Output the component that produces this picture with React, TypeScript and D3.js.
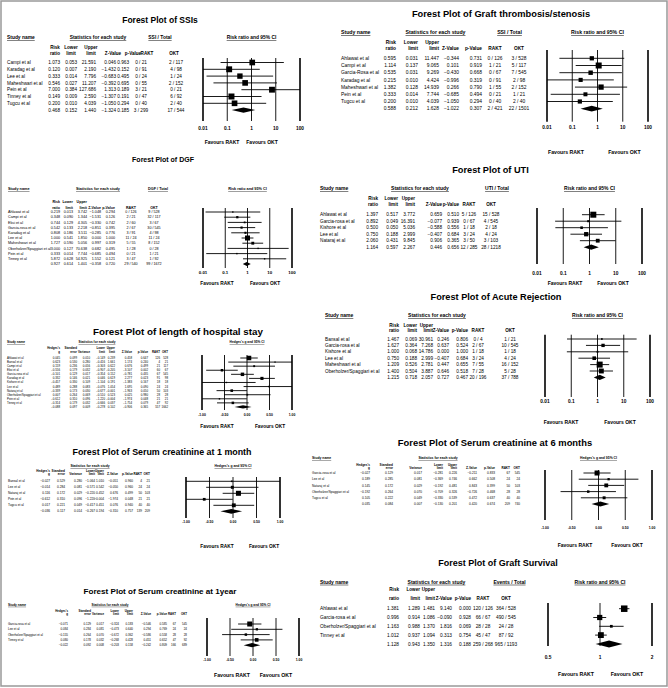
import React from 'react';
import * as d3 from 'd3';

// ---- data ----

const ssiStudies = ['Campi et al', 'Karadag et al', 'Lee et al', 'Maheshwari et al', 'Pein et al', 'Tinney et al', 'Tugcu et al', ''];
const ssiStats = [
  [1.073, 0.053, 21.591, 0.046, 0.963],
  [0.120, 0.007, 2.190, -1.432, 0.152],
  [0.333, 0.014, 7.796, -0.683, 0.495],
  [0.546, 0.027, 11.207, -0.392, 0.695],
  [7.000, 0.384, 127.686, 1.313, 0.189],
  [0.149, 0.009, 2.590, -1.307, 0.191],
  [0.200, 0.010, 4.039, -1.050, 0.294],
  [0.468, 0.152, 1.440, -1.324, 0.185],
];
const ssiRakt = ['0 / 21', '0 / 91', '0 / 24', '0 / 55', '3 / 21', '0 / 47', '0 / 40', '3 / 299'];
const ssiOkt = ['2 / 117', '4 / 98', '1 / 24', '2 / 152', '0 / 21', '6 / 92', '2 / 40', '17 / 544'];

const gtStudies = ['Ahlawat et al', 'Campi et al', 'Garcia-Rosa et al', 'Karadag et al', 'Maheshwari et al', 'Pein et al', 'Tugcu et al', ''];
const gtStats = [
  [0.595, 0.031, 11.447, -0.344, 0.731],
  [1.114, 0.137, 9.065, 0.101, 0.919],
  [0.535, 0.031, 9.269, -0.430, 0.668],
  [0.215, 0.010, 4.424, -0.996, 0.319],
  [1.382, 0.128, 14.939, 0.266, 0.790],
  [0.333, 0.014, 7.744, -0.685, 0.494],
  [0.200, 0.010, 4.039, -1.050, 0.294],
  [0.588, 0.212, 1.628, -1.022, 0.307],
];
const gtRakt = ['0 / 126', '1 / 21', '0 / 67', '0 / 91', '1 / 55', '0 / 21', '0 / 40', '2 / 421'];
const gtOkt = ['3 / 528', '5 / 117', '7 / 545', '2 / 98', '2 / 152', '1 / 21', '2 / 40', '22 / 1501'];

const dgfStudies = ['Ahlawat et al', 'Campi et al', 'Eksi et al', 'Garcia-rosa et al', 'Karadag et al', 'Lee et al', 'Maheshwari et al', 'Oberholzer/Spaggiari et al', 'Pein et al', 'Tinney et al', ''];
const dgfStats = [
  [0.219, 0.013, 3.742, -1.048, 0.294],
  [0.348, 0.090, 1.344, -1.531, 0.126],
  [0.744, 0.129, 4.305, -0.330, 0.742],
  [0.542, 0.133, 2.218, -0.851, 0.395],
  [0.808, 0.186, 3.511, -0.285, 0.776],
  [1.000, 0.541, 1.850, 0.000, 1.000],
  [1.727, 0.590, 5.056, 0.997, 0.319],
  [3.000, 0.127, 70.638, 0.682, 0.495],
  [0.333, 0.014, 7.744, -0.685, 0.494],
  [5.872, 0.628, 54.925, 1.552, 0.121],
  [0.927, 0.614, 1.401, -0.358, 0.720],
];
const dgfRakt = ['0 / 126', '2 / 21', '2 / 60', '2 / 67', '3 / 91', '11 / 24', '5 / 55', '1 / 28', '0 / 21', '3 / 47', '29 / 540'];
const dgfOkt = ['9 / 528', '32 / 117', '3 / 67', '30 / 545', '4 / 98', '11 / 24', '8 / 152', '0 / 28', '1 / 21', '1 / 92', '99 / 1672'];

const utiStudies = ['Ahlawat et al', 'Garcia-rosa et al', 'Kishore et al', 'Lee et al', 'Nataraj et al', ''];
const utiStats = [
  [1.397, 0.517, 3.772, 0.659, 0.510],
  [0.892, 0.049, 16.391, -0.077, 0.939],
  [0.500, 0.050, 5.036, -0.588, 0.556],
  [0.750, 0.188, 2.999, -0.407, 0.684],
  [2.060, 0.431, 9.845, 0.906, 0.365],
  [1.164, 0.597, 2.267, 0.446, 0.656],
];
const utiRakt = ['5 / 126', '0 / 67', '1 / 18', '3 / 24', '3 / 50', '12 / 285'];
const utiOkt = ['15 / 528', '4 / 545', '2 / 18', '4 / 24', '3 / 103', '28 / 1218'];

const losStudies = ['Ahlawat et al', 'Bansal et al', 'Campi et al', 'Eksi et al', 'Garcia-rosa et al', 'Karadag et al', 'Kishore et al', 'Lee et al', 'Nataraj et al', 'Oberholzer/Spaggiari et al', 'Pein et al', 'Tinney et al', ''];
const losStats = [
  [0.045, 0.099, 0.010, -0.149, 0.239, 0.458, 0.647, 126, 528],
  [0.623, 0.530, 0.280, -0.416, 1.661, 1.174, 0.240, 4, 21],
  [0.159, 0.236, 0.056, -0.303, 0.622, 0.676, 0.499, 21, 117],
  [-0.556, 0.179, 0.032, -0.907, -0.205, -3.107, 0.002, 60, 67],
  [-0.101, 0.129, 0.017, -0.354, 0.152, -0.781, 0.435, 67, 545],
  [0.332, 0.146, 0.021, 0.046, 0.619, 2.277, 0.023, 91, 98],
  [-0.457, 0.330, 0.109, -1.104, 0.191, -1.383, 0.167, 18, 18],
  [0.489, 0.288, 0.083, -0.076, 1.054, 1.695, 0.090, 24, 24],
  [-0.339, 0.173, 0.030, -0.677, -0.001, -1.963, 0.050, 50, 103],
  [0.007, 0.264, 0.069, -0.510, 0.523, 0.025, 0.980, 28, 28],
  [-0.612, 0.310, 0.096, -1.220, -0.004, -1.974, 0.048, 21, 21],
  [-0.314, 0.179, 0.032, -0.666, 0.037, -1.754, 0.079, 47, 92],
  [-0.088, 0.097, 0.009, -0.278, 0.102, -0.906, 0.365, 557, 1662],
];

const arStudies = ['Bansal et al', 'Garcia-rosa et al', 'Kishore et al', 'Lee et al', 'Maheshwari et al', 'Oberholzer/Spaggiari et al', ''];
const arStats = [
  [1.467, 0.069, 30.961, 0.246, 0.806],
  [1.627, 0.364, 7.268, 0.637, 0.524],
  [1.000, 0.068, 14.786, 0.000, 1.000],
  [0.750, 0.188, 2.999, -0.407, 0.684],
  [1.209, 0.526, 2.781, 0.447, 0.655],
  [1.400, 0.504, 3.887, 0.646, 0.518],
  [1.215, 0.718, 2.057, 0.727, 0.467],
];
const arRakt = ['0 / 4', '2 / 67', '1 / 18', '3 / 24', '7 / 55', '7 / 28', '20 / 196'];
const arOkt = ['1 / 21', '10 / 545', '1 / 18', '4 / 24', '16 / 152', '5 / 28', '37 / 788'];

const sc1Studies = ['Bansal et al', 'Lee et al', 'Nataraj et al', 'Pein et al', 'Tugcu et al', ''];
const sc1Stats = [
  [-0.027, 0.529, 0.280, -1.064, 1.010, -0.051, 0.960, 4, 21],
  [-0.014, 0.284, 0.081, -0.571, 0.542, -0.050, 0.960, 24, 24],
  [0.116, 0.172, 0.029, -0.220, 0.452, 0.676, 0.499, 50, 103],
  [-0.612, 0.310, 0.096, -1.220, -0.004, -1.974, 0.048, 21, 21],
  [0.017, 0.221, 0.049, -0.417, 0.451, 0.076, 0.940, 40, 40],
  [-0.036, 0.117, 0.014, -0.267, 0.194, -0.310, 0.757, 139, 209],
];

const sc6Studies = ['Garcia-rosa et al', 'Lee et al', 'Nataraj et al', 'Oberholzer/Spaggiari et al', 'Tugcu et al', ''];
const sc6Stats = [
  [-0.027, 0.129, 0.017, -0.281, 0.226, -0.211, 0.833, 67, 545],
  [0.189, 0.285, 0.081, -0.369, 0.746, 0.662, 0.508, 24, 24],
  [0.145, 0.172, 0.029, -0.192, 0.481, 0.843, 0.399, 50, 103],
  [-0.192, 0.264, 0.070, -0.709, 0.326, -0.726, 0.468, 28, 28],
  [0.105, 0.222, 0.049, -0.330, 0.539, 0.472, 0.637, 40, 40],
  [0.035, 0.084, 0.007, -0.130, 0.201, 0.420, 0.674, 209, 740],
];

const sc12Studies = ['Garcia-rosa et al', 'Lee et al', 'Oberholzer/Spaggiari et al', 'Tinney et al', ''];
const sc12Stats = [
  [-0.071, 0.129, 0.017, -0.324, 0.183, -0.546, 0.585, 67, 545],
  [0.084, 0.284, 0.081, -0.473, 0.640, 0.294, 0.769, 24, 24],
  [-0.155, 0.264, 0.070, -0.672, 0.362, -0.586, 0.558, 28, 28],
  [0.080, 0.178, 0.032, -0.268, 0.428, 0.451, 0.652, 47, 92],
  [-0.022, 0.092, 0.008, -0.203, 0.158, -0.242, 0.809, 166, 689],
];

const gsStudies = ['Ahlawat et al', 'Garcia-rosa et al', 'Oberholzer/Spaggiari et al', 'Tinney et al', ''];
const gsStats = [
  [1.381, 1.289, 1.481, 9.140, 0.000],
  [0.996, 0.914, 1.086, -0.090, 0.928],
  [1.163, 0.988, 1.370, 1.816, 0.069],
  [1.012, 0.937, 1.094, 0.313, 0.754],
  [1.128, 0.943, 1.350, 1.316, 0.188],
];
const gsRakt = ['120 / 126', '66 / 67', '28 / 28', '45 / 47', '259 / 268'];
const gsOkt = ['364 / 528', '490 / 545', '24 / 28', '87 / 92', '965 / 1193'];

const logTicks = [0.01, 0.1, 1, 10, 100];
const logTickLabels = ['0.01', '0.1', '1', '10', '100'];
const gTicks = [-1, -0.5, 0, 0.5, 1];
const gTickLabels = ['-1.00', '-0.50', '0.00', '0.50', '1.00'];
const gsTicks = [0.5, 1, 2];
const gsTickLabels = ['0.5', '1', '2'];

const rrHeads = [['Risk', 'ratio'], ['Lower', 'limit'], ['Upper', 'limit'], ['', 'Z-Value'], ['', 'p-Value'], ['', 'RAKT'], ['', 'OKT']];
const gHeads = [["Hedges's", 'g'], ['Standard', 'error'], ['', 'Variance'], ['Lower', 'limit'], ['Upper', 'limit'], ['', 'Z-Value'], ['', 'p-Value'], ['', 'RAKT'], ['', 'OKT']];

const fmt = d3.format('.3f');
const FONT = "'Liberation Sans', Arial, Helvetica, sans-serif";

interface Layout {
  kind: 'rr' | 'g';
  title: string; titleX: number; titleY: number; titleSize: number;
  headY: number; headSize: number;
  studyX: number | null; statsX: number;
  eventsLabel?: string; eventsX?: number;
  plotLabel: string;
  subY: [number, number]; subSize: number;
  headCols?: number[]; // centred column headers, when given
  rowY: number; rowStep: number; rowSize: number; nameX: number;
  cols: number[];
  plotX: [number, number]; plotY: [number, number];
  domain: [number, number]; ticks: number[]; tickLabels: string[];
  log: boolean; tickY: number; tickSize: number;
  favY: number; favX: [number, number]; favSize: number;
  maxBox: number;
}

function ForestPanel({ L, names, stats, rakt, okt }: { L: Layout; names: string[]; stats: number[][]; rakt?: string[]; okt?: string[] }) {
  const isRR = L.kind === 'rr';
  const x = L.log
    ? d3.scaleLog().domain(L.domain).range(L.plotX)
    : d3.scaleLinear().domain(L.domain).range(L.plotX);
  const clampX = (v: number) => Math.max(L.plotX[0], Math.min(L.plotX[1], x(v)));
  const n = names.length;
  const rowY = (i: number) => L.rowY + i * L.rowStep;

  const cells = stats.map((s, i) => isRR
    ? [...s.map(fmt), rakt![i], okt![i]]
    : [...s.slice(0, 7).map(fmt), String(s[7]), String(s[8])]);
  const anchors = isRR ? ['end', 'end', 'end', 'end', 'end', 'middle', 'middle'] : Array(9).fill('end');
  const heads = isRR ? rrHeads : gHeads;

  const eff = (s: number[]) => s[0];
  const lo = (s: number[]) => isRR ? s[1] : s[3];
  const hi = (s: number[]) => isRR ? s[2] : s[4];
  // study weight: inverse variance (from the CI for risk ratios)
  const weight = (s: number[]) => isRR
    ? 1 / Math.pow((Math.log(s[2]) - Math.log(s[1])) / 3.92, 2)
    : 1 / s[2];
  const studies = stats.slice(0, n - 1);
  const wMax = d3.max(studies, weight) || 1;

  const headStyle = { fontWeight: 'bold' as const, fontSize: L.headSize, textDecoration: 'underline' };
  const pooled = stats[n - 1];
  const py = rowY(n - 1);
  const dh = L.rowStep * 0.4;

  return (
    <g>
      <text x={L.titleX} y={L.titleY} dy="0.35em" textAnchor="middle" fontWeight="bold" fontSize={L.titleSize}>{L.title}</text>

      {L.studyX !== null && <text x={L.studyX} y={L.headY} dy="0.35em" style={headStyle}>Study name</text>}
      <text x={L.statsX} y={L.headY} dy="0.35em" textAnchor="middle" style={headStyle}>Statistics for each study</text>
      {L.eventsLabel && <text x={L.eventsX} y={L.headY} dy="0.35em" textAnchor="middle" style={headStyle}>{L.eventsLabel}</text>}
      <text x={(L.plotX[0] + L.plotX[1]) / 2} y={L.headY} dy="0.35em" textAnchor="middle" style={headStyle}>{L.plotLabel}</text>

      {heads.map((h, j) => h.map((t, k) => t && (
        <text key={`h${j}${k}`}
          x={L.headCols ? L.headCols[j] : L.cols[j]} y={L.subY[k]} dy="0.35em"
          textAnchor={L.headCols ? 'middle' : anchors[j]} fontWeight="bold" fontSize={L.subSize}>{t}</text>
      )))}

      {cells.map((row, i) => (
        <g key={`r${i}`} fontSize={L.rowSize}>
          <text x={L.nameX} y={rowY(i)} dy="0.35em">{names[i]}</text>
          {row.map((c, j) => (
            <text key={j} x={L.cols[j]} y={rowY(i)} dy="0.35em" textAnchor={anchors[j]}>{c}</text>
          ))}
        </g>
      ))}

      {L.ticks.map((t, j) => {
        const outer = j === 0 || j === L.ticks.length - 1;
        return (
          <g key={`t${j}`}>
            <line x1={x(t)} x2={x(t)} y1={L.plotY[0]} y2={L.plotY[1]} stroke="#000" strokeWidth={outer ? 1.6 : 0.9} />
            <text x={x(t)} y={L.tickY} dy="0.35em" textAnchor="middle" fontWeight="bold" fontSize={L.tickSize}>{L.tickLabels[j]}</text>
          </g>
        );
      })}

      {studies.map((s, i) => {
        const side = Math.max(L.maxBox * 0.28, L.maxBox * Math.sqrt(weight(s) / wMax));
        return (
          <g key={`m${i}`}>
            <line x1={clampX(lo(s))} x2={clampX(hi(s))} y1={rowY(i)} y2={rowY(i)} stroke="#000" strokeWidth={0.9} />
            <rect x={x(eff(s)) - side / 2} y={rowY(i) - side / 2} width={side} height={side} fill="#000" />
          </g>
        );
      })}
      <polygon
        points={`${x(lo(pooled))},${py} ${x(eff(pooled))},${py - dh} ${x(hi(pooled))},${py} ${x(eff(pooled))},${py + dh}`}
        fill="#000"
      />

      <text x={L.favX[0]} y={L.favY} dy="0.35em" textAnchor="middle" fontWeight="bold" fontSize={L.favSize}>Favours RAKT</text>
      <text x={L.favX[1]} y={L.favY} dy="0.35em" textAnchor="middle" fontWeight="bold" fontSize={L.favSize}>Favours OKT</text>
    </g>
  );
}

// ---- panel placement ----
const rrBase = { kind: 'rr' as const, log: true, domain: [0.01, 100] as [number, number], ticks: logTicks, tickLabels: logTickLabels, plotLabel: 'Risk ratio and 95% CI' };
const gBase = { kind: 'g' as const, log: false, domain: [-1, 1] as [number, number], ticks: gTicks, tickLabels: gTickLabels, plotLabel: "Hedges's g and 95% CI" };

const ssiLayout: Layout = {
  ...rrBase, title: 'Forest Plot of SSIs', titleX: 160, titleY: 20, titleSize: 8.5,
  headY: 37.7, headSize: 4.9, studyX: 7, statsX: 98, eventsLabel: 'SSI / Total', eventsX: 160,
  subY: [47.3, 53.3], subSize: 4.6, headCols: [55, 71, 91, 113, 133, 147, 174],
  rowY: 62.5, rowStep: 6.8, rowSize: 4.7, nameX: 7,
  cols: [60, 77, 96, 116, 129, 141, 176],
  plotX: [203, 300], plotY: [58, 121], tickY: 128, tickSize: 4.8,
  favY: 142.3, favX: [222, 262], favSize: 5, maxBox: 6,
};
const gtLayout: Layout = {
  ...rrBase, title: 'Forest Plot of Graft thrombosis/stenosis', titleX: 501, titleY: 13.3, titleSize: 9.3,
  headY: 32.3, headSize: 5.2, studyX: 341, statsX: 435.5, eventsLabel: 'SSI / Total', eventsX: 509.5,
  subY: [42.7, 48.7], subSize: 4.8, rowY: 58.3, rowStep: 7.2, rowSize: 4.9, nameX: 341,
  cols: [396, 418, 439, 459, 482, 495, 519],
  plotX: [547, 648], plotY: [50, 121.7], tickY: 127.7, tickSize: 4.8,
  favY: 152.3, favX: [566, 624.5], favSize: 5.2, maxBox: 6,
};
const dgfLayout: Layout = {
  ...rrBase, title: 'Forest Plot of DGF', titleX: 163, titleY: 159.7, titleSize: 7,
  headY: 189, headSize: 3.8, studyX: 8, statsX: 98, eventsLabel: 'DGF / Total', eventsX: 158,
  subY: [202, 207.3], subSize: 3.6, rowY: 212, rowStep: 5.2, rowSize: 3.7, nameX: 8,
  cols: [60, 73, 87, 101, 115, 131, 154],
  plotX: [203, 292], plotY: [208, 268], tickY: 272, tickSize: 4.4,
  favY: 283, favX: [217, 265], favSize: 4.8, maxBox: 5,
};
const utiLayout: Layout = {
  ...rrBase, title: 'Forest Plot of UTI', titleX: 490.5, titleY: 169.7, titleSize: 9.2,
  headY: 188.7, headSize: 5, studyX: 320, statsX: 420, eventsLabel: 'UTI / Total', eventsX: 497,
  subY: [198.7, 204.7], subSize: 4.6, rowY: 214.7, rowStep: 6.5, rowSize: 4.7, nameX: 320,
  cols: [378, 398, 415, 442, 459, 469, 491],
  plotX: [537, 642], plotY: [208, 264], tickY: 273, tickSize: 4.8,
  favY: 283, favX: [565, 613], favSize: 5, maxBox: 6,
};
const losLayout: Layout = {
  ...gBase, title: 'Forest Plot of length of hospital stay', titleX: 178, titleY: 331.3, titleSize: 9.8,
  headY: 342, headSize: 3.2, studyX: 7, statsX: 97,
  subY: [347.5, 351.5], subSize: 2.9, rowY: 358, rowStep: 4.08, rowSize: 2.9, nameX: 7,
  cols: [60, 77, 90, 105, 115, 132, 148, 160, 168],
  plotX: [202, 292], plotY: [355, 410], tickY: 414.7, tickSize: 3.4,
  favY: 426, favX: [217, 270], favSize: 4.8, maxBox: 4.5,
};
const arLayout: Layout = {
  ...rrBase, title: 'Forest Plot of Acute Rejection', titleX: 496, titleY: 296.3, titleSize: 9.2,
  headY: 315.3, headSize: 5, studyX: 325, statsX: 437,
  subY: [325.7, 330.7], subSize: 4.6, rowY: 339, rowStep: 6.4, rowSize: 4.7, nameX: 325,
  cols: [399, 417, 433, 449, 468, 478, 510],
  plotX: [545, 650], plotY: [334.7, 397], tickY: 401, tickSize: 4.8,
  favY: 422, favX: [561, 620], favSize: 5, maxBox: 6,
};
const sc1Layout: Layout = {
  ...gBase, title: 'Forest Plot of Serum creatinine at 1 month', titleX: 162, titleY: 452.3, titleSize: 8.9,
  headY: 466.3, headSize: 3.4, studyX: null, statsX: 90,
  subY: [470.7, 474], subSize: 3.1, rowY: 481.3, rowStep: 6, rowSize: 3.2, nameX: 8,
  cols: [50, 65, 82, 95, 104, 118, 133, 142, 150],
  plotX: [186, 280], plotY: [477, 518], tickY: 522, tickSize: 3.4,
  favY: 546, favX: [217, 264], favSize: 4.8, maxBox: 5,
};
const sc6Layout: Layout = {
  ...gBase, title: 'Forest Plot of Serum creatinine at 6 months', titleX: 495, titleY: 443, titleSize: 9.4,
  headY: 458, headSize: 3.4, studyX: 312, statsX: 438,
  subY: [464.7, 468], subSize: 3.1, rowY: 473, rowStep: 6.2, rowSize: 3.2, nameX: 312,
  cols: [370, 393, 422, 443, 457, 477, 495, 510, 520],
  plotX: [545, 652], plotY: [470, 520], tickY: 528, tickSize: 3.4,
  favY: 545.3, favX: [575, 627], favSize: 5, maxBox: 5,
};
const sc12Layout: Layout = {
  ...gBase, title: 'Forest Plot of Serum creatinine at 1year', titleX: 160, titleY: 591.3, titleSize: 8.1,
  headY: 604.7, headSize: 3.2, studyX: 8, statsX: 110,
  subY: [610.7, 613.7], subSize: 2.9, rowY: 624, rowStep: 5.3, rowSize: 3.0, nameX: 8,
  cols: [68, 91, 104, 119, 133, 151, 167, 176, 187],
  plotX: [207, 299], plotY: [618, 656], tickY: 660, tickSize: 3.4,
  favY: 675.3, favX: [232, 276], favSize: 5.2, maxBox: 5,
};
const gsLayout: Layout = {
  ...rrBase, title: 'Forest Plot of Graft Survival', titleX: 498, titleY: 563, titleSize: 9,
  headY: 582, headSize: 5, studyX: 320, statsX: 436.5, eventsLabel: 'Events / Total', eventsX: 509.5,
  subY: [589.7, 598], subSize: 4.6, rowY: 608.7, rowStep: 8.8, rowSize: 4.8, nameX: 320,
  cols: [399, 420, 435, 452, 471, 483, 506],
  domain: [0.5, 2], ticks: gsTicks, tickLabels: gsTickLabels,
  plotX: [548, 652], plotY: [603, 646], tickY: 657.3, tickSize: 4.8,
  favY: 674, favX: [576, 627], favSize: 5.2, maxBox: 6.5,
};

export default function App() {
  return (
    <svg width={668} height={688} viewBox="0 0 668 688"
      style={{ position: 'absolute', left: 0, top: 0, display: 'block', background: '#fff' }}
      fontFamily={FONT} fill="#000">
      <rect x={0} y={0} width={668} height={688} fill="#fff" />
      <ForestPanel L={ssiLayout} names={ssiStudies} stats={ssiStats} rakt={ssiRakt} okt={ssiOkt} />
      <ForestPanel L={gtLayout} names={gtStudies} stats={gtStats} rakt={gtRakt} okt={gtOkt} />
      <ForestPanel L={dgfLayout} names={dgfStudies} stats={dgfStats} rakt={dgfRakt} okt={dgfOkt} />
      <ForestPanel L={utiLayout} names={utiStudies} stats={utiStats} rakt={utiRakt} okt={utiOkt} />
      <ForestPanel L={losLayout} names={losStudies} stats={losStats} />
      <ForestPanel L={arLayout} names={arStudies} stats={arStats} rakt={arRakt} okt={arOkt} />
      <ForestPanel L={sc1Layout} names={sc1Studies} stats={sc1Stats} />
      <ForestPanel L={sc6Layout} names={sc6Studies} stats={sc6Stats} />
      <ForestPanel L={sc12Layout} names={sc12Studies} stats={sc12Stats} />
      <ForestPanel L={gsLayout} names={gsStudies} stats={gsStats} rakt={gsRakt} okt={gsOkt} />
      <rect x={1} y={1} width={666} height={685} fill="none" stroke="#999" strokeWidth={1.5} />
    </svg>
  );
}
